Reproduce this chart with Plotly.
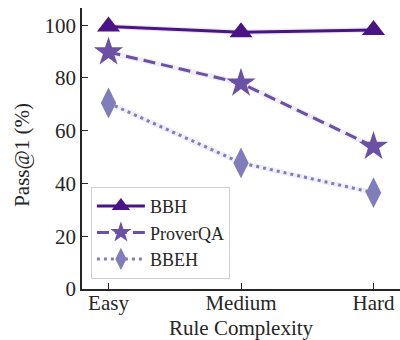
import plotly.graph_objects as go

categories = ["Easy", "Medium", "Hard"]
bbh = [99.5, 97.3, 98.2]
proverqa = [89.8, 78.0, 54.0]
bbeh = [70.5, 47.8, 36.5]
y_ticks = [0, 20, 40, 60, 80, 100]

series = [
    ("BBH", bbh, "#4a1486", "solid", "triangle-up", 20),
    ("ProverQA", proverqa, "#6a51a3", "dash", "star", 22),
    ("BBEH", bbeh, "#807dba", "dot", "diamond-tall", 22),
]
halo = {"#4a1486": "rgba(74,20,134,0.10)", "#6a51a3": "rgba(106,81,163,0.10)", "#807dba": "rgba(128,125,186,0.12)"}
dashes = {"solid": "solid", "dash": "12px,6px", "dot": "3px,4px"}

x = list(range(len(categories)))
fig = go.Figure()
for name, vals, col, dash, sym, sz in series:
    fig.add_trace(go.Scatter(x=x, y=vals, mode="lines", showlegend=False, hoverinfo="skip",
                             line=dict(color=halo[col], width=5.5)))
for name, vals, col, dash, sym, sz in series:
    fig.add_trace(go.Scatter(x=x, y=vals, mode="lines+markers", name=name,
                             line=dict(color=col, width=3, dash=dashes[dash]),
                             marker=dict(symbol=sym, size=sz, color=col, line=dict(width=0))))

font_family = "Liberation Serif, Times New Roman, serif"
fig.update_layout(
    width=400, height=340,
    margin=dict(l=82, r=0, t=8, b=51),
    plot_bgcolor="white", paper_bgcolor="white",
    font=dict(family=font_family, size=21, color="#262626"),
    showlegend=True,
    legend=dict(x=0.028, y=0.036, xanchor="left", yanchor="bottom",
                bordercolor="#d0d0d0", borderwidth=1, bgcolor="rgba(255,255,255,0.8)",
                font=dict(size=18, family=font_family), itemwidth=48, tracegroupgap=0),
    annotations=[
        dict(text="Rule Complexity", xref="paper", yref="paper", x=0.5, y=-0.14,
             xanchor="center", yanchor="middle", showarrow=False, font=dict(size=21)),
        dict(text="Pass@1 (%)", xref="paper", yref="paper", x=-0.189, y=0.477, textangle=-90,
             xanchor="center", yanchor="middle", showarrow=False, font=dict(size=21)),
    ],
)
fig.update_xaxes(range=[-0.2, 2.2], tickvals=x, ticktext=categories, automargin=False,
                 showline=True, linecolor="#262626", linewidth=1.5, showgrid=False, zeroline=False,
                 ticks="inside", ticklen=6, tickwidth=1.2, tickcolor="#262626",
                 ticklabelstandoff=-6)
fig.update_yaxes(range=[0, 106.5], tickvals=y_ticks, automargin=False,
                 showline=True, linecolor="#262626", linewidth=1.5, showgrid=False, zeroline=False,
                 ticks="inside", ticklen=6, tickwidth=1.2, tickcolor="#262626")

fig.write_html("out.html", config={"displayModeBar": False},
               post_script="document.body.style.margin='0';document.body.style.padding='0';")
